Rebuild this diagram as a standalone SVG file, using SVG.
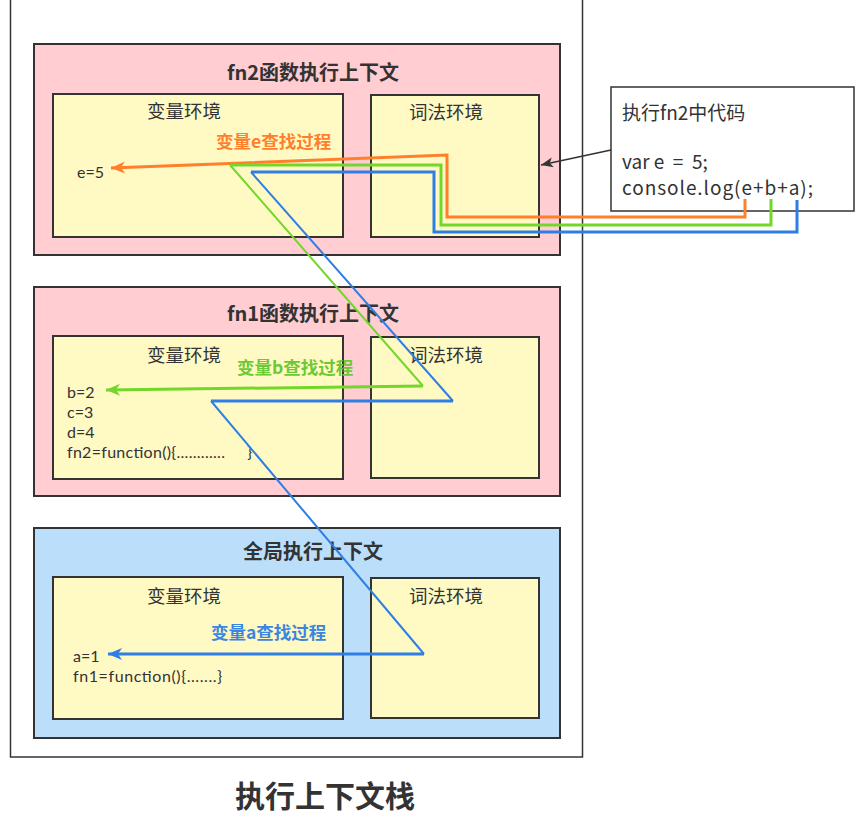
<svg xmlns="http://www.w3.org/2000/svg" width="867" height="818" viewBox="0 0 867 818">
<style>
text{font-family:"Noto Sans CJK SC","Noto Sans",sans-serif;fill:#333333}
.ctx{stroke:#333333;stroke-width:2}
.pink{fill:#ffcdd2}
.blue{fill:#bbdefb}
.env{fill:#fff9c4;stroke:#333333;stroke-width:2}
.title{font-size:20px;font-weight:bold;text-anchor:middle}
.envt{font-size:18.5px;text-anchor:middle}
.val{font-size:16px;font-family:Lato,"Noto Sans",sans-serif}
.code{font-size:19px}
.lab{font-size:17.5px;font-weight:bold}
.ln{fill:none;stroke-linejoin:miter;stroke-linecap:butt}
</style>
<defs>
<marker id="ao" markerUnits="userSpaceOnUse" markerWidth="16" markerHeight="14" refX="15" refY="7" orient="auto" viewBox="0 0 16 14"><path d="M15,7 L1,1 L5,7 L1,13 Z" fill="#ff7f2a"/></marker>
<marker id="ag" markerUnits="userSpaceOnUse" markerWidth="16" markerHeight="14" refX="15" refY="7" orient="auto" viewBox="0 0 16 14"><path d="M15,7 L1,1 L5,7 L1,13 Z" fill="#72d72a"/></marker>
<marker id="ab" markerUnits="userSpaceOnUse" markerWidth="16" markerHeight="14" refX="15" refY="7" orient="auto" viewBox="0 0 16 14"><path d="M15,7 L1,1 L5,7 L1,13 Z" fill="#2f7ee3"/></marker>
<marker id="ak" markerUnits="userSpaceOnUse" markerWidth="14" markerHeight="12" refX="13" refY="6" orient="auto" viewBox="0 0 14 12"><path d="M13,6 L1,1 L4,6 L1,11 Z" fill="#333333"/></marker>
</defs>
<rect id="stack" x="10.5" y="-5" width="572" height="762" fill="#ffffff" stroke="#333333" stroke-width="1.5"/>
<g id="fn2ctx">
<rect class="ctx pink" x="34" y="44" width="526" height="211"/>
<text class="title" x="313" y="80">fn2函数执行上下文</text>
</g>
<g id="fn2var">
<rect class="env" x="53" y="94" width="290" height="143"/>
<text class="envt" x="184" y="118">变量环境</text>
<text class="val" x="77" y="178">e=5</text>
</g>
<g id="fn2lex">
<rect class="env" x="371" y="95" width="168" height="142"/>
<text class="envt" x="446" y="119">词法环境</text>
</g>
<g id="fn1ctx">
<rect class="ctx pink" x="34" y="287" width="526" height="209"/>
<text class="title" x="313" y="321">fn1函数执行上下文</text>
</g>
<g id="fn1var">
<rect class="env" x="53" y="336" width="290" height="143"/>
<text class="envt" x="184" y="362">变量环境</text>
<text class="val" x="67" y="398">b=2</text>
<text class="val" x="67" y="418">c=3</text>
<text class="val" x="67" y="438">d=4</text>
<text class="val" x="67" y="458" xml:space="preserve" textLength="185" lengthAdjust="spacing">fn2=function(){............     }</text>
</g>
<g id="fn1lex">
<rect class="env" x="371" y="337" width="168" height="141"/>
<text class="envt" x="446" y="362">词法环境</text>
</g>
<g id="globalctx">
<rect class="ctx blue" x="34" y="528" width="526" height="210"/>
<text class="title" x="313" y="559">全局执行上下文</text>
</g>
<g id="globalvar">
<rect class="env" x="53" y="577" width="290" height="142"/>
<text class="envt" x="184" y="603">变量环境</text>
<text class="val" x="73" y="662">a=1</text>
<text class="val" x="73" y="682" textLength="149" lengthAdjust="spacing">fn1=function(){.......}</text>
</g>
<g id="globallex">
<rect class="env" x="371" y="578" width="168" height="140"/>
<text class="envt" x="446" y="603">词法环境</text>
</g>
<g id="code">
<rect x="611" y="87" width="243" height="124" fill="#ffffff" stroke="#333333" stroke-width="1.5"/>
<text class="code" x="622" y="120">执行fn2中代码</text>
<text class="code" x="622" y="169" xml:space="preserve">var e  =  5;</text>
<text class="code" x="622" y="195" textLength="191" lengthAdjust="spacing">console.log(e+b+a);</text>
</g>
<g id="connectors">
<path d="M611,150 L541,165" fill="none" stroke="#333333" stroke-width="1.5" marker-end="url(#ak)"/>
<path class="ln" d="M745,199 V217 H447 V155 L111,168" stroke="#ff7f2a" stroke-width="3" marker-end="url(#ao)"/>
<path class="ln" d="M771,199 V225 H441 V165 H230" stroke="#72d72a" stroke-width="3"/>
<path class="ln" d="M230,165 L423,386" stroke="#72d72a" stroke-width="2"/>
<path class="ln" d="M423,386 L106,390" stroke="#72d72a" stroke-width="3" marker-end="url(#ag)"/>
<path class="ln" d="M797,200 V232 H434 V172 H251" stroke="#2f7ee3" stroke-width="3"/>
<path class="ln" d="M251,172 L453,401" stroke="#2f7ee3" stroke-width="2"/>
<path class="ln" d="M453,401 H211" stroke="#2f7ee3" stroke-width="3"/>
<path class="ln" d="M211,401 L424,654" stroke="#2f7ee3" stroke-width="2"/>
<path class="ln" d="M424,654 H108" stroke="#2f7ee3" stroke-width="3" marker-end="url(#ab)"/>
<text class="lab" x="216" y="148" style="fill:#ff7f2a">变量e查找过程</text>
<text class="lab" x="237" y="374" style="fill:#6cc936">变量b查找过程</text>
<text class="lab" x="211" y="639" style="fill:#3a86e0">变量a查找过程</text>
</g>
<text x="325" y="807" font-size="30" font-weight="bold" text-anchor="middle">执行上下文栈</text>
</svg>
